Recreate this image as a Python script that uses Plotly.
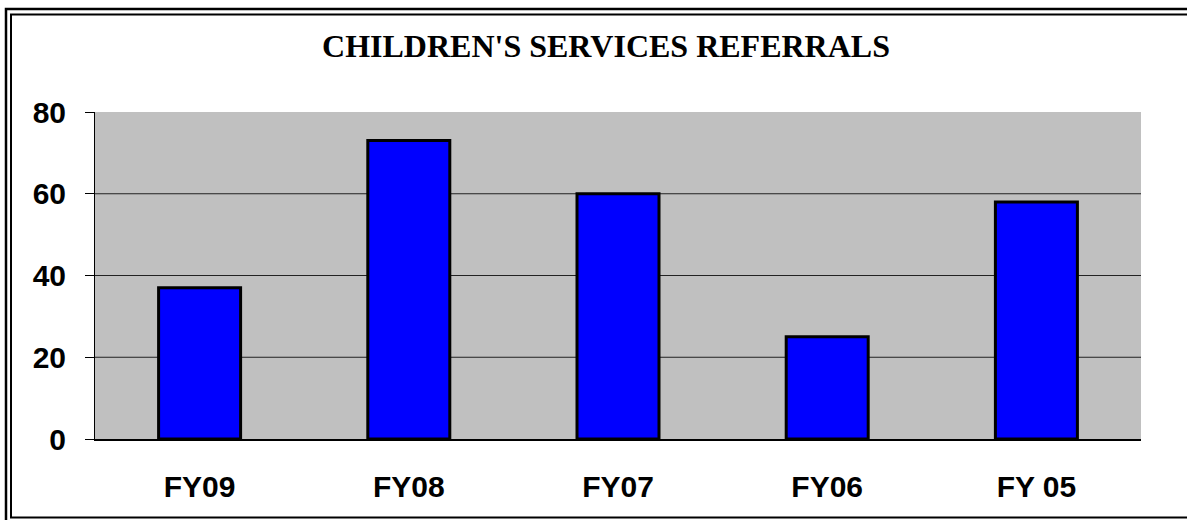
import plotly.graph_objects as go

# chart data
years = ["FY09", "FY08", "FY07", "FY06", "FY 05"]
referrals = [37, 73, 60, 25, 58]
y_ticks = [0, 20, 40, 60, 80]
grid_vals = [20, 40, 60]

W, H = 1187, 520
L, R, T, B = 95, 46, 112, 81
pw, ph = W - L - R, H - T - B


def px(x):
    return (x - L) / pw


def py(y):
    return (H - B - y) / ph


fig = go.Figure(
    go.Bar(
        x=years,
        y=referrals,
        width=0.392,
        marker=dict(color="#0000FF", line=dict(color="black", width=3)),
        hoverinfo="x+y",
    )
)

shapes = []
# gridlines (no line at the top edge, like Excel)
for g in grid_vals:
    shapes.append(dict(type="line", xref="paper", yref="y", x0=0, x1=1, y0=g, y1=g,
                       line=dict(color="#222222", width=1), layer="below"))

# double frame round the whole chart
shapes.append(dict(type="rect", xref="paper", yref="paper",
                   x0=px(6), x1=px(1210), y0=py(9), y1=py(535),
                   line=dict(color="black", width=2.5)))
shapes.append(dict(type="rect", xref="paper", yref="paper",
                   x0=px(11), x1=px(1200), y0=py(14.5), y1=py(517.5),
                   line=dict(color="black", width=2)))

fig.update_layout(
    width=W,
    height=H,
    margin=dict(l=L, r=R, t=T, b=B),
    paper_bgcolor="white",
    plot_bgcolor="#C0C0C0",
    showlegend=False,
    shapes=shapes,
    title=dict(
        text="CHILDREN'S SERVICES REFERRALS",
        font=dict(family="Liberation Serif, Times New Roman, serif", size=32,
                  color="black", weight="bold"),
        xref="container", x=606 / W, xanchor="center",
        yref="container", y=1 - 46 / H, yanchor="middle",
    ),
)

fig.update_xaxes(
    showgrid=False,
    showline=True, linecolor="black", linewidth=1.5,
    ticks="",
    ticklabelstandoff=20,
    tickfont=dict(family="Liberation Sans, Arial, sans-serif", size=30,
                  color="black", weight="bold"),
)

fig.update_yaxes(
    range=[0, 80],
    tickvals=y_ticks,
    showgrid=False,
    zeroline=False,
    showline=True, linecolor="black", linewidth=1,
    ticks="outside", ticklen=9, tickcolor="black", tickwidth=1,
    ticklabelstandoff=13,
    tickfont=dict(family="Liberation Sans, Arial, sans-serif", size=30,
                  color="black", weight="bold"),
)

# drop the page's default body margin so the chart sits at the window origin
fig.write_html("out.html", config={"displayModeBar": False},
               post_script="document.body.style.margin='0';")
